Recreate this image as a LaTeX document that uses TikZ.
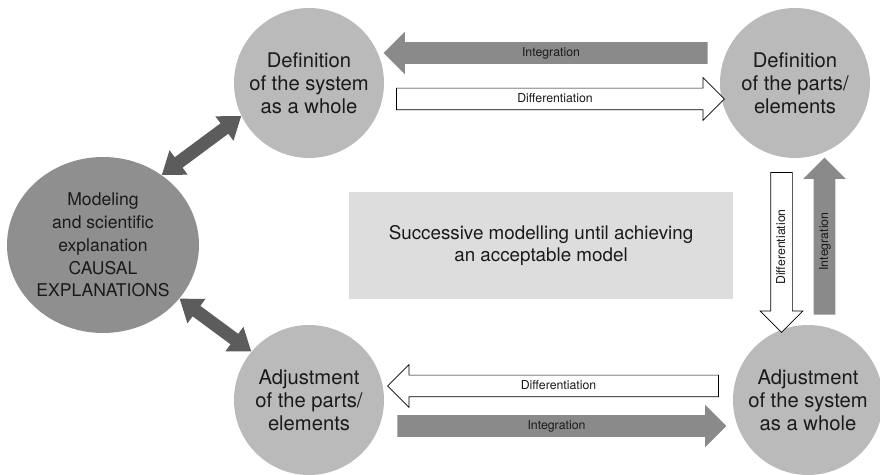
\documentclass[tikz,border=0pt]{standalone}
\usepackage{fontspec}
\setmainfont{TeX Gyre Heros}
\usetikzlibrary{shapes.geometric,shapes.arrows,arrows.meta}
\definecolor{discgray}{HTML}{BABABA}
\definecolor{bigdiscgray}{HTML}{8F8F8F}
\definecolor{flowgray}{HTML}{8A8A8A}
\definecolor{linkgray}{HTML}{5C5C5C}
\definecolor{panelgray}{HTML}{DDDDDD}
\definecolor{inkgray}{HTML}{1A1A1A}
\begin{document}
\begin{tikzpicture}
        [disc/.style={circle, fill=discgray, minimum size=3cm, inner sep=0pt,
            align=center, text=inkgray, font=\fontsize{11.5}{13}\selectfont},
        bigdisc/.style={ellipse, fill=bigdiscgray, minimum width=3.84cm, minimum height=3.52cm,
            inner sep=0pt, align=center, text=inkgray, font=\fontsize{10}{13}\selectfont},
        flow/.style={single arrow, single arrow head extend=0.21cm, inner sep=0pt,
            text height=0.28cm, text depth=0.14cm, text=inkgray, font=\fontsize{7}{8}\selectfont},
        integ/.style={flow, fill=flowgray},
        diff/.style={flow, draw=black, line width=0.4pt, fill=white},
        link/.style={line width=0.26cm, draw=linkgray,
            {Triangle[width=0.58cm,length=0.42cm]}-{Triangle[width=0.58cm,length=0.42cm]}}]
        \useasboundingbox (0,0) rectangle (17.6,9.5);
        % the four stages
        \node[disc] (defsys) at (6.18,7.84) {Definition\\of the system\\as a whole};
        \node[disc] (defparts) at (15.9,7.84) {Definition\\of the parts/\\elements};
        \node[disc] (adjparts) at (6.18,1.5) {Adjustment\\of the parts/\\elements};
        \node[disc] (adjsys) at (16.16,1.5) {Adjustment\\of the system\\as a whole};
        \node[bigdisc] (model) at (2.06,4.6) {Modeling\\and scientific\\explanation\\CAUSAL\\EXPLANATIONS};
        \node[fill=panelgray, minimum width=7.68cm, minimum height=2.14cm, align=center,
            text=inkgray, font=\fontsize{10.7}{13}\selectfont] (panel) at (10.82,4.59)
            {Successive modelling until achieving\\an acceptable model};
        % block arrows
        \node[integ, shape border rotate=180, minimum height=6.48cm] (intA) at (11.02,8.44) {Integration};
        \node[diff, minimum height=6.56cm] (difA) at (11.10,7.52) {Differentiation};
        \node[diff, rotate=90, shape border rotate=180, minimum height=3.2cm] (difB) at (15.63,4.56) {Differentiation};
        \node[integ, rotate=90, minimum height=3.14cm] (intB) at (16.49,4.67) {Integration};
        \node[diff, shape border rotate=180, minimum height=6.62cm] (difC) at (11.17,1.78) {Differentiation};
        \node[integ, minimum height=6.58cm] (intC) at (11.13,0.98) {Integration};
        % links to the model
        \draw[link] (model.50) -- (defsys.206);
        \draw[link] (model.325) -- (adjparts.140);
\end{tikzpicture}
\end{document}
